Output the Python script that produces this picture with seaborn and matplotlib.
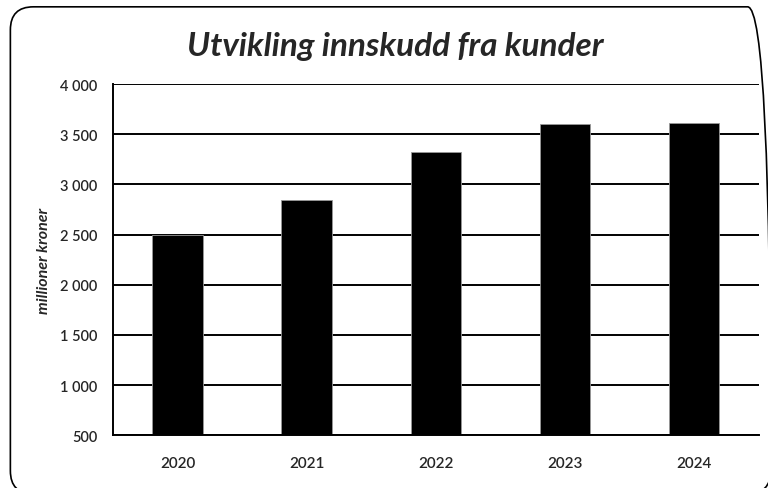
import matplotlib
matplotlib.use("Agg")
import matplotlib.pyplot as plt
import seaborn as sns
import pandas as pd
from matplotlib.patches import FancyBboxPatch
from matplotlib.ticker import FuncFormatter, MultipleLocator

# ------------------------------------------------------------
# DATA
# ------------------------------------------------------------
years = ["2020", "2021", "2022", "2023", "2024"]
deposits = [2500, 2840, 3320, 3607, 3617]

df = pd.DataFrame({"year": years, "deposits": deposits})

# ------------------------------------------------------------
# PLOT
# ------------------------------------------------------------
sns.set_style("white")
plt.rcParams['font.family'] = ['Lato', 'DejaVu Sans']

fig = plt.figure(figsize=(7.68, 4.89), dpi=100)

# rounded frame around the whole chart (right and bottom edges just cut off)
frame = FancyBboxPatch((0.0135, -0.012), 0.99, 0.996,
                       boxstyle="round,pad=0,rounding_size=0.03",
                       transform=fig.transFigure, fill=False,
                       edgecolor="black", linewidth=1.2, mutation_aspect=768/489)
fig.patches.append(frame)

ax = fig.add_axes([0.147, 0.108, 0.841, 0.718])
sns.barplot(data=df, x="year", y="deposits", color="black",
            width=0.39, edgecolor="#999999", linewidth=0.6, saturation=1, ax=ax)

ax.set_ylim(500, 4000)
ax.set_xlim(-0.5, 4.5)
ax.yaxis.set_major_locator(MultipleLocator(500))
ax.yaxis.set_major_formatter(FuncFormatter(lambda v, p: f"{int(v):,}".replace(",", " ")))

ax.set_axisbelow(True)
ax.grid(axis="y", color="black", linewidth=1.4)
ax.grid(axis="x", visible=False)

for side in ["top", "right"]:
    ax.spines[side].set_visible(False)
for side in ["left", "bottom"]:
    ax.spines[side].set_color("black")
    ax.spines[side].set_linewidth(1.4)

ax.tick_params(axis="y", length=0, pad=11, labelsize=10.5)
ax.tick_params(axis="x", length=0, pad=15, labelsize=11)
for lbl in ax.get_xticklabels() + ax.get_yticklabels():
    lbl.set_fontweight("semibold")

ax.set_xlabel("")
ax.set_ylabel("millioner kroner", fontsize=11.5, fontweight="bold", fontstyle="italic", labelpad=7)

fig.text(0.515, 0.905, "Utvikling innskudd fra kunder", ha="center", va="center",
         fontsize=24, fontweight="bold", fontstyle="italic")

fig.savefig("out.png", dpi=100)
